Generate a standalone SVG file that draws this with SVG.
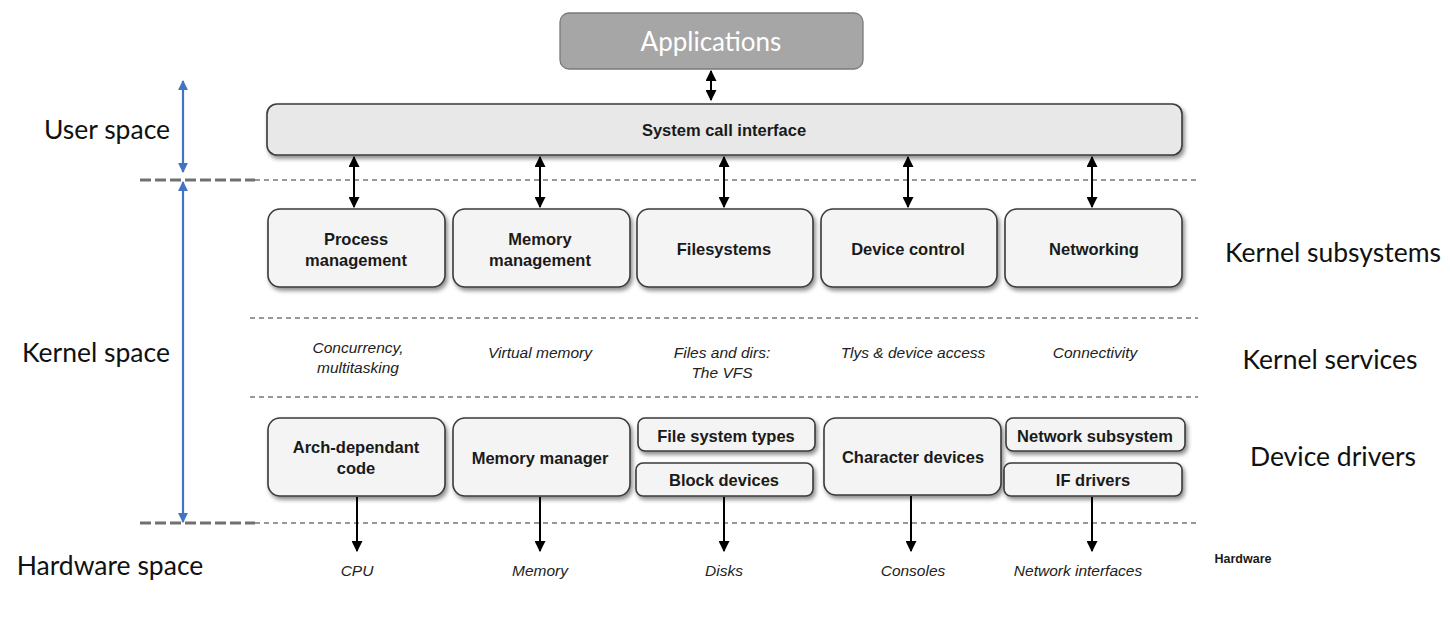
<svg xmlns="http://www.w3.org/2000/svg" width="1450" height="626" viewBox="0 0 1450 626">
  <style>
    .box { fill: #f4f4f4; stroke: #3a3a3a; stroke-width: 1.6; filter: url(#shadow); }
    .lbl { font-family: "Liberation Sans", Arial, sans-serif; font-weight: bold; font-size: 16.5px; fill: #1a1a1a; text-anchor: middle; }
    .svc { font-family: "Liberation Sans", Arial, sans-serif; font-style: italic; font-size: 15.5px; fill: #222; text-anchor: middle; }
    .side { font-family: Lato, "Open Sans", sans-serif; font-size: 26.5px; fill: #111; text-anchor: middle; }
    .sep { stroke: #777; stroke-width: 1.3; stroke-dasharray: 5 4; fill: none; }
    .sepbold { stroke: #707070; stroke-width: 3; stroke-dasharray: 11 4; fill: none; }
    .link { stroke: #000; stroke-width: 2; fill: none; }
    .scope { stroke: #4472c4; stroke-width: 2.2; fill: none; }
  </style>
  <defs>
    <filter id="shadow" x="-10%" y="-20%" width="130%" height="150%">
      <feDropShadow dx="2" dy="3" stdDeviation="2" flood-color="#000" flood-opacity="0.45"/>
    </filter>
    <marker id="head" viewBox="0 0 10 10" refX="9" refY="5" markerWidth="5.5" markerHeight="5.5" orient="auto-start-reverse" markerUnits="strokeWidth">
      <path d="M0,0 L10,5 L0,10 z" fill="#000"/>
    </marker>
    <marker id="bhead" viewBox="0 0 10 10" refX="9" refY="5" markerWidth="4.5" markerHeight="4.5" orient="auto-start-reverse" markerUnits="strokeWidth">
      <path d="M0,0 L10,5 L0,10 z" fill="#4472c4"/>
    </marker>
  </defs>

  <rect width="1450" height="626" fill="#fff"/>

  <!-- layer separators -->
  <g id="separators">
    <line class="sep" x1="255" y1="180" x2="1198" y2="180"/>
    <line class="sepbold" x1="140" y1="180" x2="255" y2="180"/>
    <line class="sep" x1="250" y1="318" x2="1198" y2="318"/>
    <line class="sep" x1="250" y1="397" x2="1198" y2="397"/>
    <line class="sep" x1="255" y1="523" x2="1198" y2="523"/>
    <line class="sepbold" x1="140" y1="523" x2="255" y2="523"/>
  </g>

  <!-- space extents -->
  <g id="scopes">
    <line class="scope" x1="183" y1="81" x2="183" y2="172" marker-start="url(#bhead)" marker-end="url(#bhead)"/>
    <line class="scope" x1="183" y1="182" x2="183" y2="522" marker-start="url(#bhead)" marker-end="url(#bhead)"/>
  </g>

  <!-- side labels -->
  <g id="side-labels">
    <text class="side" x="107" y="139">User space</text>
    <text class="side" x="96" y="362">Kernel space</text>
    <text class="side" x="110" y="575">Hardware space</text>
    <text class="side" x="1333" y="262">Kernel subsystems</text>
    <text class="side" x="1330" y="369">Kernel services</text>
    <text class="side" x="1333" y="466">Device drivers</text>
  </g>

  <g id="applications">
    <rect x="560" y="13" width="303" height="56" rx="9" fill="#a6a6a6" stroke="#7a7a7a" stroke-width="1.3"/>
    <text x="711" y="51" text-anchor="middle" font-family="Lato, 'Open Sans', sans-serif" font-size="26" fill="#fff">Applications</text>
  </g>

  <g id="syscall">
    <rect class="box" x="267" y="104" width="915" height="51" rx="10" style="fill:#e8e8e8"/>
    <text class="lbl" x="724" y="136">System call interface</text>
  </g>

  <!-- kernel subsystems -->
  <g id="process-management">
    <rect class="box" x="268" y="209" width="177" height="78" rx="12"/>
    <text class="lbl" x="356" y="245">Process</text>
    <text class="lbl" x="356" y="266">management</text>
  </g>
  <g id="memory-management">
    <rect class="box" x="453" y="209" width="177" height="78" rx="12"/>
    <text class="lbl" x="540" y="245">Memory</text>
    <text class="lbl" x="540" y="266">management</text>
  </g>
  <g id="filesystems">
    <rect class="box" x="637" y="209" width="176" height="78" rx="12"/>
    <text class="lbl" x="724" y="255">Filesystems</text>
  </g>
  <g id="device-control">
    <rect class="box" x="821" y="209" width="176" height="78" rx="12"/>
    <text class="lbl" x="908" y="255">Device control</text>
  </g>
  <g id="networking">
    <rect class="box" x="1005" y="209" width="177" height="78" rx="12"/>
    <text class="lbl" x="1094" y="255">Networking</text>
  </g>

  <!-- kernel services -->
  <g id="services">
    <text class="svc" x="358" y="353">Concurrency,</text>
    <text class="svc" x="358" y="373">multitasking</text>
    <text class="svc" x="540" y="358">Virtual memory</text>
    <text class="svc" x="722" y="358">Files and dirs:</text>
    <text class="svc" x="722" y="378">The VFS</text>
    <text class="svc" x="913" y="358">Tlys &amp; device access</text>
    <text class="svc" x="1095" y="358">Connectivity</text>
  </g>

  <!-- device drivers -->
  <g id="arch-dependant-code">
    <rect class="box" x="268" y="418" width="177" height="78" rx="12"/>
    <text class="lbl" x="356" y="453">Arch-dependant</text>
    <text class="lbl" x="356" y="474">code</text>
  </g>
  <g id="memory-manager">
    <rect class="box" x="453" y="418" width="177" height="78" rx="12"/>
    <text class="lbl" x="540" y="464">Memory manager</text>
  </g>
  <g id="file-system-types">
    <rect class="box" x="638" y="418" width="177" height="33" rx="7"/>
    <text class="lbl" x="726" y="442">File system types</text>
  </g>
  <g id="block-devices">
    <rect class="box" x="636" y="463" width="177" height="33" rx="7"/>
    <text class="lbl" x="724" y="486">Block devices</text>
  </g>
  <g id="character-devices">
    <rect class="box" x="824" y="418" width="177" height="77" rx="12"/>
    <text class="lbl" x="913" y="463">Character devices</text>
  </g>
  <g id="network-subsystem">
    <rect class="box" x="1006" y="418" width="179" height="33" rx="7"/>
    <text class="lbl" x="1095" y="442">Network subsystem</text>
  </g>
  <g id="if-drivers">
    <rect class="box" x="1004" y="463" width="178" height="33" rx="7"/>
    <text class="lbl" x="1093" y="486">IF drivers</text>
  </g>

  <!-- hardware -->
  <g id="hardware">
    <text class="svc" x="357" y="576">CPU</text>
    <text class="svc" x="540" y="576">Memory</text>
    <text class="svc" x="724" y="576">Disks</text>
    <text class="svc" x="913" y="576">Consoles</text>
    <text class="svc" x="1078" y="576">Network interfaces</text>
    <text x="1243" y="563" text-anchor="middle" font-family="'Liberation Sans', Arial, sans-serif" font-weight="bold" font-size="12.5" fill="#1a1a1a">Hardware</text>
  </g>

  <!-- connectors -->
  <g id="connectors">
    <line class="link" x1="711" y1="71" x2="711" y2="100" marker-start="url(#head)" marker-end="url(#head)"/>
    <line class="link" x1="354" y1="157" x2="354" y2="207" marker-start="url(#head)" marker-end="url(#head)"/>
    <line class="link" x1="540" y1="157" x2="540" y2="207" marker-start="url(#head)" marker-end="url(#head)"/>
    <line class="link" x1="724" y1="157" x2="724" y2="207" marker-start="url(#head)" marker-end="url(#head)"/>
    <line class="link" x1="908" y1="157" x2="908" y2="207" marker-start="url(#head)" marker-end="url(#head)"/>
    <line class="link" x1="1092" y1="157" x2="1092" y2="207" marker-start="url(#head)" marker-end="url(#head)"/>
    <line class="link" x1="357" y1="497" x2="357" y2="551" marker-end="url(#head)"/>
    <line class="link" x1="540" y1="497" x2="540" y2="551" marker-end="url(#head)"/>
    <line class="link" x1="724" y1="497" x2="724" y2="551" marker-end="url(#head)"/>
    <line class="link" x1="911" y1="496" x2="911" y2="551" marker-end="url(#head)"/>
    <line class="link" x1="1092" y1="497" x2="1092" y2="551" marker-end="url(#head)"/>
  </g>
</svg>
